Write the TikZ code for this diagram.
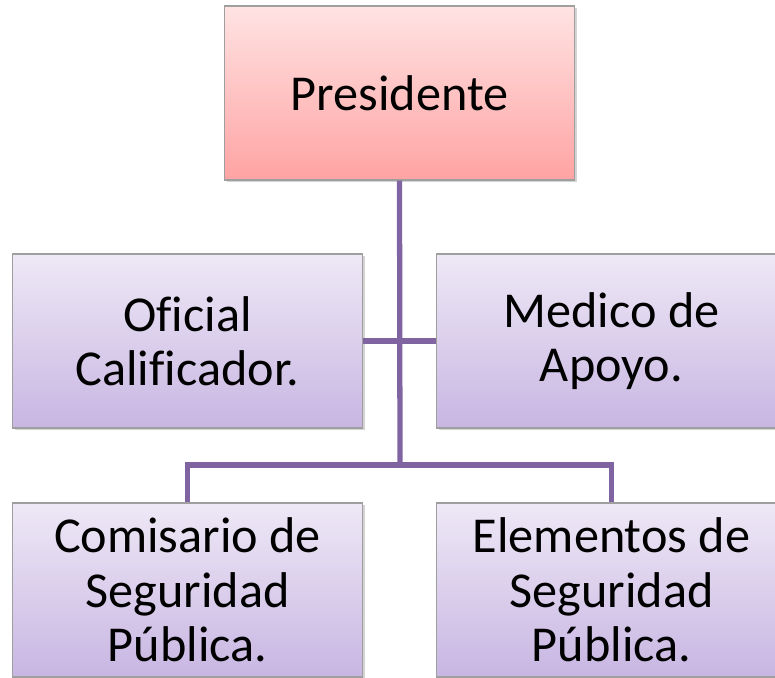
\documentclass[tikz,border=0pt]{standalone}
\usepackage{fontspec}
\setmainfont{Carlito}[Ligatures=NoCommon]
\usetikzlibrary{shadows}
\definecolor{linkpurple}{HTML}{8064A2}
\definecolor{pinktop}{HTML}{FFE3E3}
\definecolor{pinkbot}{HTML}{FFA3A3}
\definecolor{lilactop}{HTML}{EEE8F6}
\definecolor{lilacbot}{HTML}{C8B6E2}
\begin{document}
\begin{tikzpicture}[x=0.02cm,y=-0.02cm,
    box/.style={draw=gray!75, line width=0.6pt, minimum width=7.0cm, minimum height=3.48cm,
      align=center, font=\fontsize{28.6}{31}\selectfont,
      drop shadow={shadow xshift=1.2pt, shadow yshift=-1.2pt, opacity=0.35}},
    topbox/.style={box, top color=pinktop, bottom color=pinkbot},
    subbox/.style={box, top color=lilactop, bottom color=lilacbot},
    link/.style={draw=linkpurple, line width=3pt}]
  \useasboundingbox (0,0) rectangle (775,677);
  % top
    \node[topbox] (pres) at (399.5,93) {Presidente};
  % second row
    \node[subbox] (ofi) at (187.5,341) {Of\kern0pt icial\\Calif\kern0pt icador.};
    \node[subbox] (med) at (611.5,341) {Medico de\\Apoyo.};
  % third row
    \node[subbox] (com) at (187.5,590) {Comisario de\\Seguridad\\Pública.};
    \node[subbox] (ele) at (611.5,590) {Elementos de\\Seguridad\\Pública.};
  % connectors
    \coordinate (split) at (400,465);
    \begin{scope}[on background layer/.try]
      \draw[link] (pres.south) -- (split);
      \draw[link] (ofi.east) -- (med.west);
      \draw[link] (com.north) |- (split) -| (ele.north);
    \end{scope}
\end{tikzpicture}
\end{document}
